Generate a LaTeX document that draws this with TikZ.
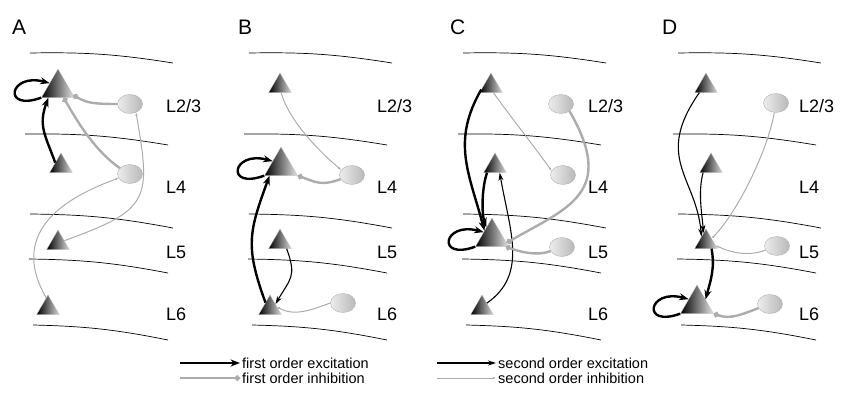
\documentclass[tikz,border=0pt]{standalone}
\usepackage{fontspec}
\setmainfont{Liberation Sans}
\usetikzlibrary{shapes.geometric, arrows.meta}
\tikzset{
  pyr/.style={regular polygon, regular polygon sides=3, minimum size=26pt, inner sep=0pt,
              left color=black, right color=gray!30, draw=gray!50, line width=0.3pt},
  bigpyr/.style={pyr, minimum size=38pt, right color=gray!20},
  inter/.style={ellipse, minimum width=25pt, minimum height=19pt, inner sep=0pt,
              left color=gray!15, right color=gray!55, draw=gray!60, line width=0.4pt},
  exc1/.style={-{Stealth[length=9.5pt,width=7pt]}, line width=2.4pt},
  exc2/.style={-{Stealth[length=8pt,width=5pt]}, line width=1.1pt},
  inh1/.style={-{Circle[length=5.5pt]}, line width=2.4pt, gray!65},
  inh2/.style={-{Latex[length=3pt,width=2.5pt]}, line width=1pt, gray!65},
  lamina/.style={line width=0.7pt},
  lyr/.style={anchor=base west, inner sep=0pt, font=\fontsize{18}{18}\selectfont},
  panel/.style={anchor=base west, inner sep=0pt, font=\fontsize{21}{21}\selectfont},
  legtext/.style={anchor=base west, inner sep=2pt, font=\fontsize{14.5}{15}\selectfont},
}
\begin{document}
\begin{tikzpicture}[x=1pt,y=1pt]
    \useasboundingbox (0,0) rectangle (851,392);

    % layer borders and layer names
    \foreach \dx in {0,219,433,648}{
        \draw[lamina] (30+\dx,339) to[bend left=5] (173+\dx,329);
        \draw[lamina] (25+\dx,258) to[bend left=5] (168+\dx,247);
        \draw[lamina] (30+\dx,178) to[bend left=5] (173+\dx,164);
        \draw[lamina] (29+\dx,133) to[bend left=5] (168+\dx,119);
        \draw[lamina] (33+\dx,67) to[bend left=5] (168+\dx,52);
    }
    \foreach \p/\lx in {A/166,B/377,C/588,D/799}{
        \node[lyr] (\p-l23) at (\lx,280) {L2/3};
        \node[lyr] (\p-l4) at (\lx,199) {L4};
        \node[lyr] (\p-l5) at (\lx,134) {L5};
        \node[lyr] (\p-l6) at (\lx,72) {L6};
    }

    % A
    \node[panel] (pA) at (12,358) {A};
    \node[bigpyr] (A23) at (58,304) {};
    \node[inter] (A23i) at (130,288) {};
    \node[pyr] (A4) at (61,226) {};
    \node[inter] (A4i) at (130,218) {};
    \node[pyr] (A5) at (58,149) {};
    \node[pyr] (A6) at (48,84) {};
    \draw[exc1] (A23.210) .. controls +(200:42) and +(165:42) .. (A23.150);
    \draw[exc1] (A4.150) .. controls +(110:30) and +(250:30) .. (A23.225);
    \draw[inh1] (A23i.west) .. controls +(180:25) and +(-30:15) .. (A23.-25);
    \draw[inh1] (A4i.150) .. controls +(145:30) and +(-60:30) .. (A23.-60);
    \draw[inh2] (A5.20) .. controls +(20:90) and +(-80:90) .. (A23i.-55);
    \draw[inh2] (A6.100) .. controls +(120:80) and +(200:50) .. (A4i.200);

    % B
    \node[panel] (pB) at (238,358) {B};
    \node[pyr] (B23) at (280,306) {};
    \node[bigpyr] (B4) at (281,226) {};
    \node[inter] (B4i) at (352,217) {};
    \node[pyr] (B5) at (280,150) {};
    \node[pyr] (B6) at (270,84) {};
    \node[inter] (B6i) at (343,89) {};
    \draw[inh2] (B23.-80) .. controls +(-75:30) and +(140:25) .. (B4i.155);
    \draw[inh1] (B4i.200) .. controls +(200:20) and +(-20:20) .. (B4.-30);
    \draw[exc1] (B4.210) .. controls +(200:42) and +(165:42) .. (B4.150);
    \draw[exc1] (B6.130) .. controls +(110:60) and +(250:60) .. (B4.220);
    \draw[exc2] (B5.-45) .. controls +(-70:30) and +(60:30) .. (B6.35);
    \draw[inh2] (B6i.west) .. controls +(200:20) and +(-30:20) .. (B6.10);

    % C
    \node[panel] (pC) at (450,358) {C};
    \node[pyr] (C23) at (491,306) {};
    \node[inter] (C23i) at (561,288) {};
    \node[pyr] (C4) at (495,226) {};
    \node[inter] (C4i) at (563,217) {};
    \node[bigpyr] (C5) at (492,155) {};
    \node[inter] (C5i) at (562,145) {};
    \node[pyr] (C6) at (482,84) {};
    \draw[exc1] (C23.200) .. controls +(240:60) and +(105:60) .. (C5.140);
    \draw[exc1] (C4.220) .. controls +(250:15) and +(110:15) .. (C5.120);
    \draw[exc2] (C6.45) .. controls +(35:50) and +(-80:60) .. (C4.-55);
    \draw[exc1] (C5.210) .. controls +(200:42) and +(165:42) .. (C5.150);
    \draw[inh2] (C23.-70) .. controls +(-55:25) and +(125:25) .. (C4i.160);
    \draw[inh1] (C23i.-40) .. controls +(-60:95) and +(30:70) .. (C5.-22);
    \draw[inh1] (C5i.200) .. controls +(200:15) and +(-20:15) .. (C5.-35);

    % D
    \node[panel] (pD) at (662,358) {D};
    \node[pyr] (D23) at (706,306) {};
    \node[inter] (D23i) at (776,289) {};
    \node[pyr] (D4) at (711,226) {};
    \node[pyr] (D5) at (706,150) {};
    \node[inter] (D5i) at (777,146) {};
    \node[bigpyr] (D6) at (697,88) {};
    \node[inter] (D6i) at (770,88) {};
    \draw[exc2] (D23.225) .. controls +(235:80) and +(95:60) .. (D5.130);
    \draw[exc2] (D4.220) .. controls +(255:20) and +(95:20) .. (D5.105);
    \draw[inh2] (D23i.-100) .. controls +(-100:40) and +(45:35) .. (D5.32);
    \draw[inh2] (D5i.200) .. controls +(200:18) and +(-25:18) .. (D5.-20);
    \draw[exc1] (D5.-50) .. controls +(-80:20) and +(75:20) .. (D6.28);
    \draw[exc1] (D6.210) .. controls +(200:42) and +(165:42) .. (D6.150);
    \draw[inh1] (D6i.200) .. controls +(200:18) and +(-20:18) .. (D6.-30);

    % legend
    \coordinate (k1) at (180,29);
    \node[legtext] (t1) at (240,24) {first order excitation};
    \draw[exc1] (k1) -- (k1 -| t1.west);
    \coordinate (k2) at (180,14);
    \node[legtext] (t2) at (240,9) {first order inhibition};
    \draw[inh1] (k2) -- (k2 -| t2.west);
    \coordinate (k3) at (437,29);
    \node[legtext] (t3) at (496,24) {second order excitation};
    \draw[exc2] (k3) -- (k3 -| t3.west);
    \coordinate (k4) at (437,14);
    \node[legtext] (t4) at (496,9) {second order inhibition};
    \draw[inh2] (k4) -- (k4 -| t4.west);
\end{tikzpicture}
\end{document}
